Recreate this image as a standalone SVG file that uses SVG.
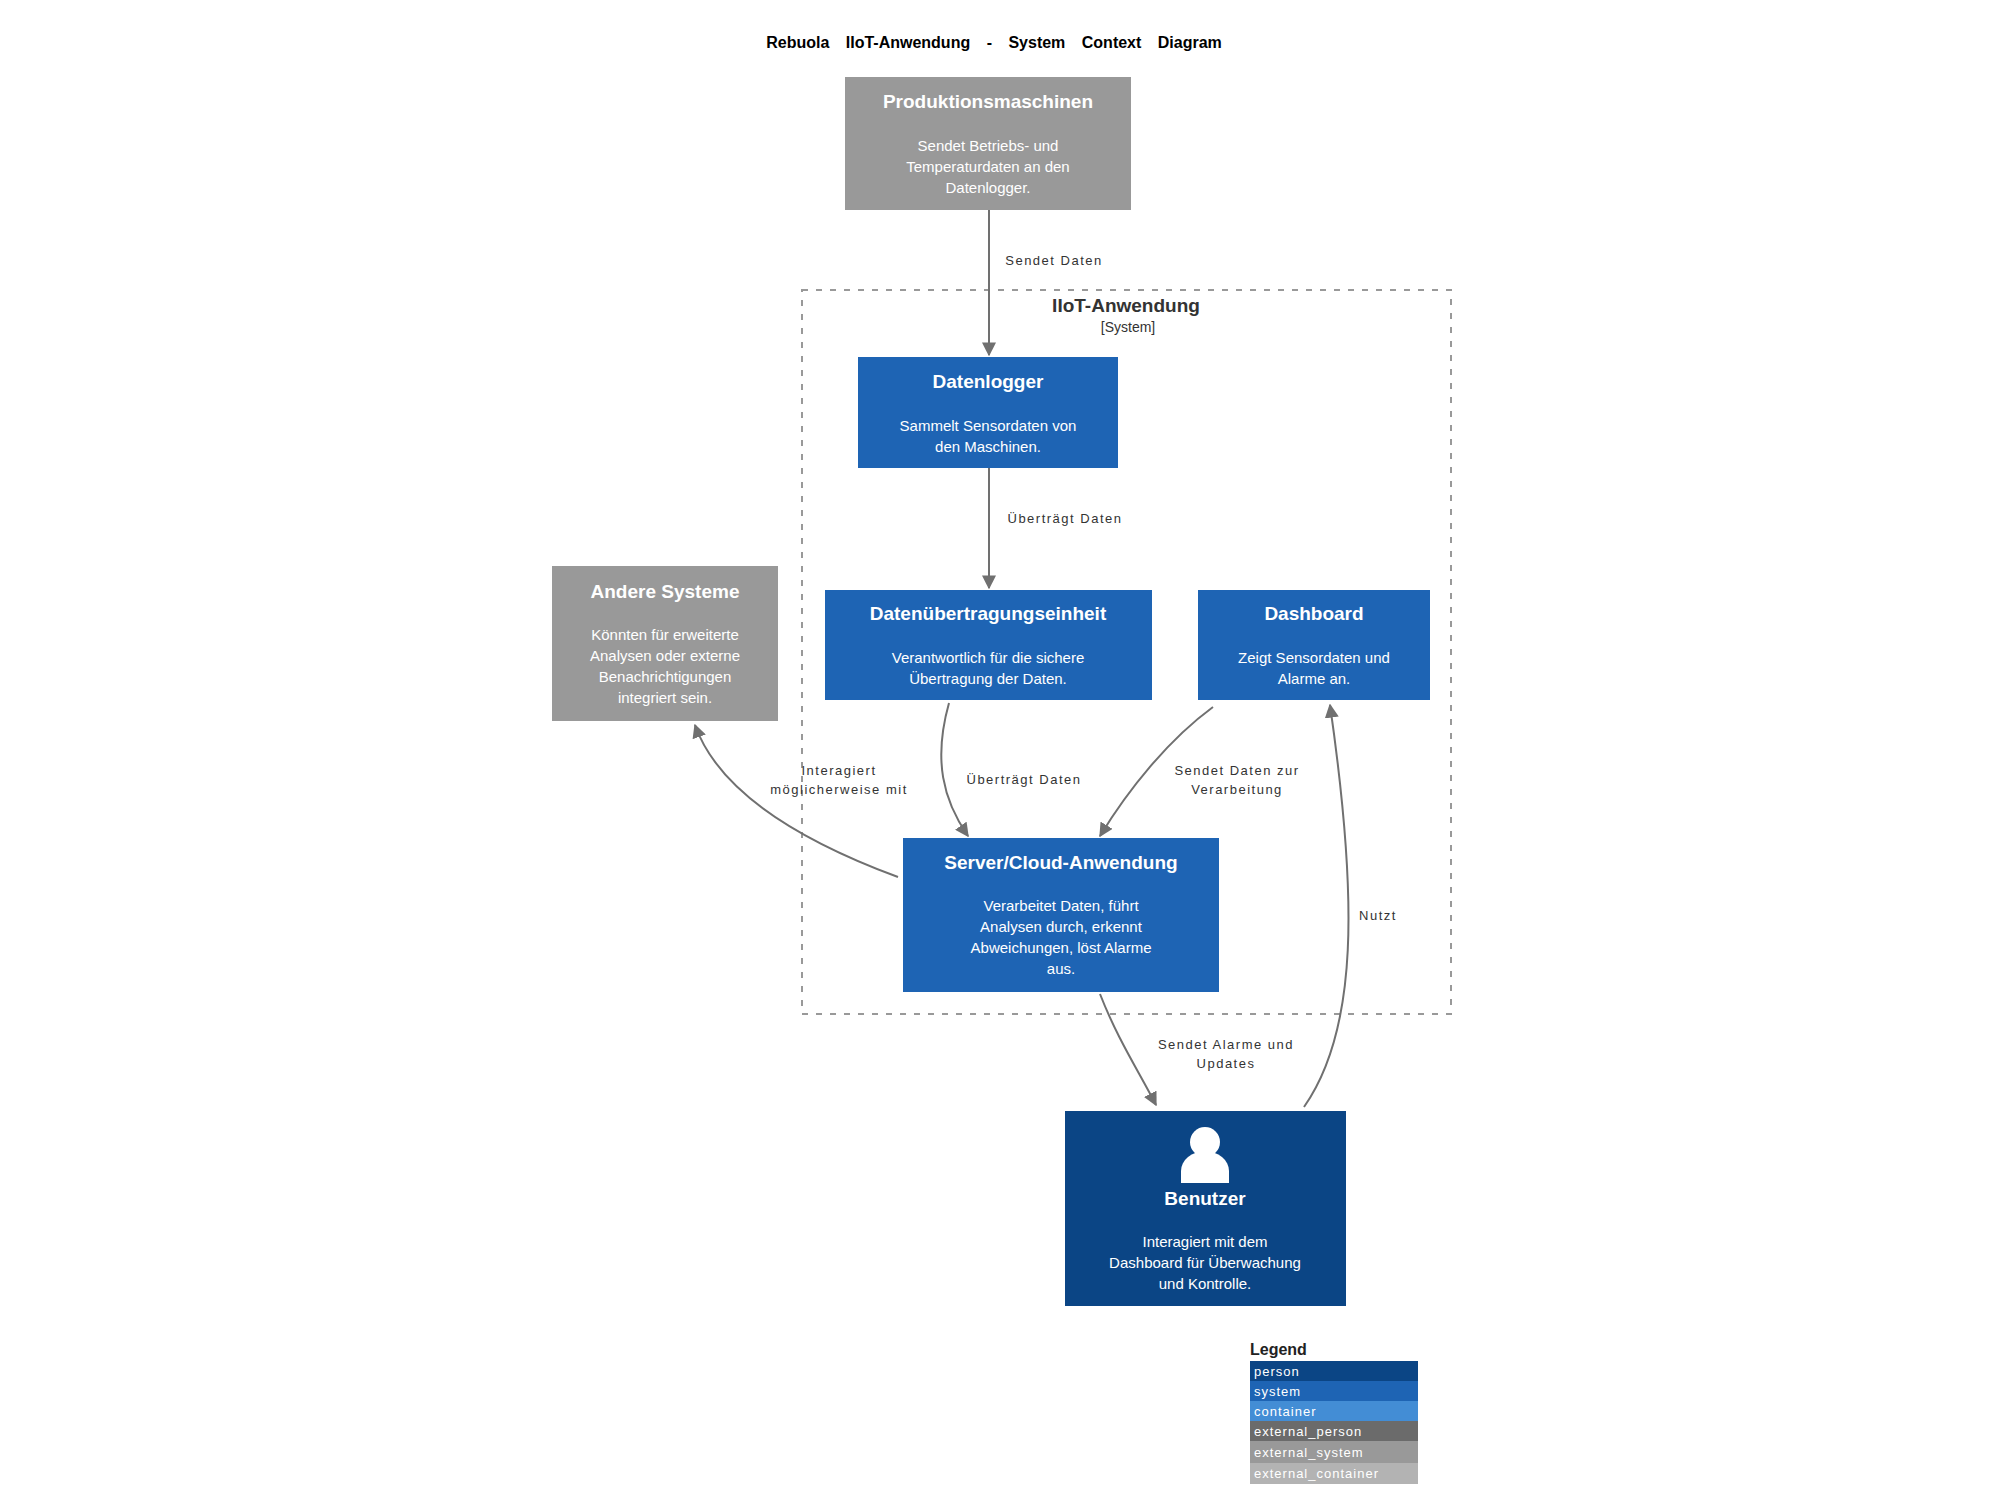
<svg xmlns="http://www.w3.org/2000/svg" width="2000" height="1500" viewBox="0 0 2000 1500">
<style>
text{font-family:"Liberation Sans",Arial,sans-serif}
.t{font-size:19px;font-weight:bold;fill:#fff;text-anchor:middle}
.d{font-size:15px;fill:#fff;text-anchor:middle}
.l{font-size:13px;fill:#333;text-anchor:middle;letter-spacing:1.5px}
.c{fill:none;stroke:#707070;stroke-width:2}
.lg{font-size:13px;fill:#fff;letter-spacing:1px}
</style>
<defs>
<marker id="a" viewBox="0 0 10 10" refX="9" refY="5" markerWidth="7" markerHeight="7" orient="auto"><path d="M0,0L10,5L0,10z" fill="#707070"/></marker>
</defs>
<rect width="2000" height="1500" fill="#fff"/>
<g transform="translate(-12,0)">
<text x="1006" y="48" font-size="16" font-weight="bold" text-anchor="middle" word-spacing="12">Rebuola IIoT-Anwendung - System Context Diagram</text>
<g id="boundary">
<rect x="814" y="290" width="649" height="724" fill="none" stroke="#999" stroke-width="2" stroke-dasharray="6,8"/>
<text x="1138" y="312" font-size="19" font-weight="bold" fill="#333" text-anchor="middle">IIoT-Anwendung</text>
<text x="1140" y="332" font-size="14" fill="#333" text-anchor="middle">[System]</text>
</g>
<g id="connectors">
<path class="c" d="M1001,210L1001,355" marker-end="url(#a)"/>
<text class="l" x="1066" y="265">Sendet Daten</text>
<path class="c" d="M1001,468L1001,588" marker-end="url(#a)"/>
<text class="l" x="1077" y="523">Überträgt Daten</text>
<path class="c" d="M961,703C945,760 955,800 980,836" marker-end="url(#a)"/>
<text class="l" x="1036" y="784">Überträgt Daten</text>
<path class="c" d="M1225,707C1180,740 1140,790 1112,836" marker-end="url(#a)"/>
<text class="l" x="1249" y="775">Sendet Daten zur</text>
<text class="l" x="1249" y="794">Verarbeitung</text>
<path class="c" d="M910,877C810,840 730,790 707,725" marker-end="url(#a)"/>
<text class="l" x="851" y="775">Interagiert</text>
<text class="l" x="851" y="794">möglicherweise mit</text>
<path class="c" d="M1112,994C1130,1040 1150,1070 1168,1105" marker-end="url(#a)"/>
<text class="l" x="1238" y="1049">Sendet Alarme und</text>
<text class="l" x="1238" y="1068">Updates</text>
<path class="c" d="M1316,1107C1370,1030 1370,900 1342,705" marker-end="url(#a)"/>
<text class="l" x="1390" y="920">Nutzt</text>
</g>
<g id="produktionsmaschinen">
<rect x="857" y="77" width="286" height="133" fill="#999"/>
<text class="t" x="1000" y="108">Produktionsmaschinen</text>
<text class="d" x="1000" y="151">Sendet Betriebs- und</text>
<text class="d" x="1000" y="172">Temperaturdaten an den</text>
<text class="d" x="1000" y="193">Datenlogger.</text>
</g>
<g id="datenlogger">
<rect x="870" y="357" width="260" height="111" fill="#1e64b4"/>
<text class="t" x="1000" y="388">Datenlogger</text>
<text class="d" x="1000" y="431">Sammelt Sensordaten von</text>
<text class="d" x="1000" y="452">den Maschinen.</text>
</g>
<g id="datenuebertragungseinheit">
<rect x="837" y="590" width="327" height="110" fill="#1e64b4"/>
<text class="t" x="1000" y="620">Datenübertragungseinheit</text>
<text class="d" x="1000" y="663">Verantwortlich für die sichere</text>
<text class="d" x="1000" y="684">Übertragung der Daten.</text>
</g>
<g id="dashboard">
<rect x="1210" y="590" width="232" height="110" fill="#1e64b4"/>
<text class="t" x="1326" y="620">Dashboard</text>
<text class="d" x="1326" y="663">Zeigt Sensordaten und</text>
<text class="d" x="1326" y="684">Alarme an.</text>
</g>
<g id="andere">
<rect x="564" y="566" width="226" height="155" fill="#999"/>
<text class="t" x="677" y="598">Andere Systeme</text>
<text class="d" x="677" y="640">Könnten für erweiterte</text>
<text class="d" x="677" y="661">Analysen oder externe</text>
<text class="d" x="677" y="682">Benachrichtigungen</text>
<text class="d" x="677" y="703">integriert sein.</text>
</g>
<g id="server">
<rect x="915" y="838" width="316" height="154" fill="#1e64b4"/>
<text class="t" x="1073" y="869">Server/Cloud-Anwendung</text>
<text class="d" x="1073" y="911">Verarbeitet Daten, führt</text>
<text class="d" x="1073" y="932">Analysen durch, erkennt</text>
<text class="d" x="1073" y="953">Abweichungen, löst Alarme</text>
<text class="d" x="1073" y="974">aus.</text>
</g>
<g id="benutzer">
<rect x="1077" y="1111" width="281" height="195" fill="#0b4585"/>
<circle cx="1217" cy="1142" r="15" fill="#fff"/>
<path d="M1193,1183v-12a22,18 0 0 1 48,0v12z" fill="#fff"/>
<text class="t" x="1217" y="1205">Benutzer</text>
<text class="d" x="1217" y="1247">Interagiert mit dem</text>
<text class="d" x="1217" y="1268">Dashboard für Überwachung</text>
<text class="d" x="1217" y="1289">und Kontrolle.</text>
</g>
<g id="legend">
<text x="1262" y="1355" font-size="16" font-weight="bold" fill="#222">Legend</text>
<rect x="1262" y="1361" width="168" height="20" fill="#0b4585"/>
<text class="lg" x="1266" y="1376">person</text>
<rect x="1262" y="1381" width="168" height="20" fill="#1e64b4"/>
<text class="lg" x="1266" y="1396">system</text>
<rect x="1262" y="1401" width="168" height="20" fill="#438dd5"/>
<text class="lg" x="1266" y="1416">container</text>
<rect x="1262" y="1421" width="168" height="20" fill="#6b6b6b"/>
<text class="lg" x="1266" y="1436">external_person</text>
<rect x="1262" y="1441" width="168" height="22" fill="#999"/>
<text class="lg" x="1266" y="1457">external_system</text>
<rect x="1262" y="1463" width="168" height="21" fill="#b3b3b3"/>
<text class="lg" x="1266" y="1478">external_container</text>
</g>
</g>
</svg>
